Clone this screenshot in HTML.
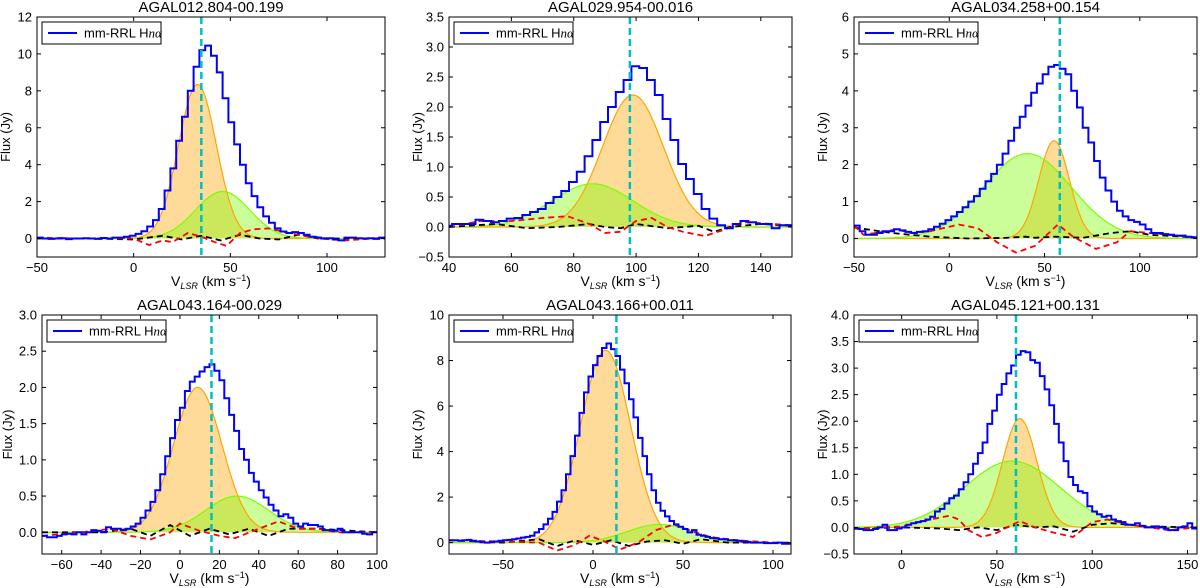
<!DOCTYPE html>
<html><head><meta charset="utf-8">
<style>
html,body{margin:0;padding:0;background:#fff;}
svg{display:block;font-family:"Liberation Sans",sans-serif;}
</style></head>
<body>
<svg id="fig" width="1200" height="588" viewBox="0 0 1200 588" xmlns="http://www.w3.org/2000/svg"></svg>
<script>
// ---- panel data ----
const titles = ["AGAL012.804-00.199","AGAL029.954-00.016","AGAL034.258+00.154","AGAL043.164-00.029","AGAL043.166+00.011","AGAL045.121+00.131"];
const xRanges = [[-50,130],[40,150],[-50,130],[-70,100],[-80,110],[-25,155]];
const yRanges = [[-1,12],[-0.5,3.5],[-0.5,6],[-0.3,3.0],[-0.5,10],[-0.5,4.0]];
const xTicks = [[-50,0,50,100],[40,60,80,100,120,140],[-50,0,50,100],[-60,-40,-20,0,20,40,60,80,100],[-50,0,50,100],[0,50,100,150]];
const yTicks = [[0,2,4,6,8,10,12],[-0.5,0,0.5,1,1.5,2,2.5,3,3.5],[0,1,2,3,4,5,6],[0,0.5,1,1.5,2,2.5,3],[0,2,4,6,8,10],[-0.5,0,0.5,1,1.5,2,2.5,3,3.5,4]];
const yDecimals = [0,1,0,1,0,1];
const vlsr = [35,98,58,16,13,60];
const binStart = [-50,38.5,-50,-70,-82.5,-25];
const binWidth = [3,2.5,3,2.5,2.5,2.5];
const blue1 = [0.05,0,-0.02,0,0.02,-0.03,0,0,0.02,0,-0.02,0.03,0,0.05,0.05,0.1,0.15,0.25,0.4,0.65,1.0,1.6,2.6,3.8,5.3,6.6,8.0,9.3,10.2,10.45,9.9,9.0,7.6,6.3,5.1,4.0,3.0,2.3,1.7,1.2,0.85,0.55,0.38,0.3,0.35,0.3,0.2,0.1,0.05,0.0,0.02,-0.05,-0.1,0.05,0.05,0.02,0,0.02,-0.02,0.05];
const blue2 = [0.02,0.05,0.05,0.05,0.12,0.1,0.08,0.1,0.14,0.15,0.2,0.25,0.3,0.4,0.5,0.6,0.75,0.92,1.18,1.45,1.75,2.0,2.25,2.45,2.68,2.65,2.45,2.2,1.8,1.45,1.05,0.8,0.55,0.3,0.14,0.03,-0.02,0.05,0.1,0.08,0.05,0.05,-0.02,0.03,0.03];
const blue3 = [0.35,0.2,0.1,0.1,0.15,0.2,0.2,0.25,0.22,0.18,0.15,0.18,0.2,0.25,0.32,0.4,0.5,0.6,0.72,0.85,1.0,1.15,1.35,1.55,1.75,2.0,2.3,2.65,3.0,3.3,3.6,3.95,4.2,4.45,4.65,4.7,4.6,4.45,4.0,3.55,3.0,2.6,2.1,1.65,1.3,1.0,0.75,0.6,0.5,0.45,0.38,0.25,0.15,0.15,0.12,0.1,0.08,0.08,0.05,0.03];
const blue4 = [-0.05,-0.07,-0.07,-0.05,-0.03,-0.02,-0.03,0,-0.03,0,0.03,0.02,0,0.07,0.05,0.05,0.03,0.05,0.08,0.12,0.2,0.3,0.42,0.58,0.8,1.05,1.3,1.55,1.72,1.95,2.08,2.15,2.22,2.28,2.32,2.23,2.1,1.85,1.62,1.4,1.15,1.0,0.82,0.7,0.58,0.48,0.38,0.3,0.22,0.25,0.2,0.12,0.08,0.12,0.1,0.1,0.08,0.03,0.03,0.02,0.05,0,0,0,0,-0.02,-0.03,0];
const blue5 = [0.1,0.1,0.1,0.08,0.1,0.12,0.08,0.05,0.02,0.0,0.02,0.05,0.08,0.1,0.12,0.15,0.18,0.22,0.25,0.3,0.45,0.6,0.8,1.05,1.35,1.8,2.3,3.0,3.8,4.7,5.7,6.6,7.3,7.8,8.2,8.55,8.75,8.5,8.2,7.6,7.0,6.3,5.5,4.6,3.8,3.0,2.3,1.75,1.4,1.15,0.95,0.8,0.7,0.6,0.45,0.55,0.35,0.3,0.25,0.2,0.18,0.15,0.15,0.1,0.1,0.08,0.05,0.03,0,0,0,-0.02,-0.02,-0.02,0,-0.05,-0.05];
const blue6 = [-0.02,-0.03,-0.05,-0.05,-0.03,0,0.05,-0.05,-0.05,-0.02,0,0.05,0.08,0.1,0.12,0.15,0.2,0.3,0.35,0.45,0.55,0.6,0.72,0.85,1.0,1.2,1.4,1.6,1.95,2.2,2.5,2.7,2.9,3.05,3.25,3.32,3.3,3.15,3.1,2.85,2.6,2.3,1.95,1.6,1.25,0.95,0.8,0.68,0.65,0.4,0.3,0.25,0.2,0.22,0.15,0.12,0.1,0.05,0.05,0.08,0.03,0,0,0.02,0,-0.02,-0.05,-0.05,0,0.02,0.08,-0.02];
const blueSeries = [blue1,blue2,blue3,blue4,blue5,blue6];
// Gaussian fit parameters [amplitude, centre, sigma]
const orangeFit = [[8.35,33,9.8],[2.2,99,9.8],[2.65,55,8],[2.0,9,12.3],[8.45,7,14],[2.05,62,9]];
const greenFit = [[2.55,46,14],[0.72,86,13],[2.3,41,23],[0.5,29,16],[0.8,37,18],[1.25,58,25]];
const redX = [[-50,-30,-10,0,8,15,20,28,35,42,48,55,62,70,78,85,95,110,130],[40,50,60,70,78,85,90,95,100,105,110,115,122,128,135,150],[-50,-45,-35,-28,-20,-10,5,15,25,35,45,57,65,77,88,95,105,115,130],[-70,-50,-35,-25,-15,-5,0,10,20,28,40,50,60,70,80,100],[-80,-50,-30,-20,-10,-2,5,15,25,35,45,55,65,80,100,110],[-25,-10,0,15,25,30,35,42,50,58,62,70,80,90,100,108,120,140,155]];
const redY = [[0.05,0,0,0,-0.35,-0.1,-0.2,0.3,0.1,-0.2,-0.4,0.3,0.5,0.55,0.35,0.2,0,-0.1,0.05],[0,0.1,0.1,0.15,0.18,0.05,-0.1,-0.08,0.1,0.15,0,-0.08,-0.15,-0.05,0.08,0.03],[0.35,0.1,0.18,0.25,0.15,0.2,0.38,0.28,-0.1,-0.38,-0.2,0.38,0.05,-0.28,-0.1,0.2,0.15,0.1,0.03],[-0.05,0,0.05,-0.05,-0.1,0,0.12,0.02,-0.05,-0.08,0.05,0.15,0.05,0.05,0,0],[0.1,0.05,0,-0.35,-0.1,0.3,0.1,-0.3,0.0,0.55,0.8,0.5,0.25,0.1,0,-0.05],[-0.03,0,0.02,0.15,0.22,0.15,-0.05,-0.18,-0.1,0.05,0.12,0,-0.1,-0.18,0.1,0.15,0.05,-0.05,0]];
const blackX = [[-50,-20,0,15,25,35,45,55,65,75,85,100,130],[40,55,65,75,85,90,95,100,110,120,125,130,140,150],[-50,-30,-10,10,30,40,45,55,70,85,95,105,130],[-70,-40,-25,-15,-5,5,15,25,35,45,55,70,100],[-80,-50,-30,-20,-10,0,10,20,30,40,50,60,75,90,110],[-25,0,20,30,40,50,60,70,80,90,100,110,130,155]];
const blackY = [[0,0,-0.05,0.15,-0.05,0.15,-0.1,0.2,0,-0.05,0.2,0,0],[0,0.05,-0.02,0,0.05,0,-0.02,0.05,-0.02,0.02,-0.08,0,0.05,0.02],[0.3,0.15,0.05,0,0.02,0.05,0.02,0.05,0.02,0.15,0.2,0.1,0.03],[0,0,0.05,-0.05,0.1,-0.05,0.05,-0.03,0.05,-0.05,0.05,0.05,0],[0.1,0,0.15,-0.15,0.1,-0.1,0.1,-0.15,0.05,0.1,-0.05,0.15,0,0,0],[-0.02,0,-0.02,-0.05,0,-0.05,0.05,0,0.02,-0.08,0.05,0.08,0.02,0]];
// ---- layout ----
const boxes = [[37,17,385,257],[449,17,792,257],[854,17,1197,257],[42,315,377,554],[449,315,791,554],[854,315,1197,554]];

const NS="http://www.w3.org/2000/svg";
const fig=document.getElementById('fig');
function mk(tag,attrs,parent){const e=document.createElementNS(NS,tag);for(const k in attrs)e.setAttribute(k,attrs[k]);parent.appendChild(e);return e;}
function fmt(v,d){const s=Math.abs(v).toFixed(d);return (v<0?'\u2212':'')+s;}

for(let p=0;p<6;p++){
  const [L,T,R,B]=boxes[p];
  const [x0,x1]=xRanges[p],[y0,y1]=yRanges[p];
  const sx=v=>L+(v-x0)/(x1-x0)*(R-L);
  const sy=v=>B-(v-y0)/(y1-y0)*(B-T);
  const g=mk('g',{},fig);
  
  
  const cid='clip'+p;
  const cp=mk('clipPath',{id:cid},g);
  mk('rect',{x:L,y:T,width:R-L,height:B-T},cp);
  const plot=mk('g',{'clip-path':'url(#'+cid+')'},g);
  function gaussPts(par){const [a,c,s]=par;const pts=[];for(let x=x0;x<=x1+0.001;x+=0.5){pts.push([sx(x),sy(a*Math.exp(-(x-c)*(x-c)/(2*s*s)))]);}return pts;}
  const fits=[[orangeFit[p],'orange','orange'],[greenFit[p],'lawngreen','lawngreen']];
  fits.forEach((f,i)=>{
    const pts=gaussPts(f[0]);
    const d='M'+sx(x0)+','+sy(0)+' L'+pts.map(q=>q[0].toFixed(1)+','+q[1].toFixed(1)).join(' L')+' L'+sx(x1)+','+sy(0)+'Z';
    const fa=mk('path',{d:d,fill:f[1],'fill-opacity':0.4,stroke:'none'},plot);
    
    
  });
  fits.forEach((f,i)=>{
    const pts=gaussPts(f[0]);
    const ln=mk('polyline',{points:pts.map(q=>q[0].toFixed(1)+','+q[1].toFixed(1)).join(' '),fill:'none',stroke:f[2],'stroke-width':1.2},plot);
    
    
  });
  const mkLine=(xs,ys,col)=>mk('polyline',{points:xs.map((x,i)=>sx(x).toFixed(1)+','+sy(ys[i]).toFixed(1)).join(' '),fill:'none',stroke:col,'stroke-width':1.8,'stroke-dasharray':'6,4'},plot);
  const bl=mkLine(blackX[p],blackY[p],'black');
  
  
  const rl=mkLine(redX[p],redY[p],'red');
  
  
  const vals=blueSeries[p];let sp=[];
  vals.forEach((v,i)=>{const xa=binStart[p]+i*binWidth[p],xb=xa+binWidth[p];sp.push(sx(xa).toFixed(1)+','+sy(v).toFixed(1));sp.push(sx(xb).toFixed(1)+','+sy(v).toFixed(1));});
  const st=mk('polyline',{points:sp.join(' '),fill:'none',stroke:'#0000ff','stroke-width':2},plot);
  
  
  const vl=mk('line',{x1:sx(vlsr[p]),x2:sx(vlsr[p]),y1:T,y2:B,stroke:'#00bfbf','stroke-width':2.5,'stroke-dasharray':'7,4'},plot);
  
  
  const fr=mk('rect',{x:L,y:T,width:R-L,height:B-T,fill:'none',stroke:'#000','stroke-width':1},g);
  
  
  xTicks[p].forEach(t=>{
    const x=sx(t);
    mk('line',{x1:x,x2:x,y1:B,y2:B-4,stroke:'#000'},g);
    mk('line',{x1:x,x2:x,y1:T,y2:T+4,stroke:'#000'},g);
    const tl=mk('text',{x:x,y:B+15,'text-anchor':'middle','font-size':13},g);
    tl.textContent=fmt(t,0);
    
    
  });
  yTicks[p].forEach(t=>{
    const y=sy(t);
    mk('line',{x1:L,x2:L+4,y1:y,y2:y,stroke:'#000'},g);
    mk('line',{x1:R,x2:R-4,y1:y,y2:y,stroke:'#000'},g);
    const tl=mk('text',{x:L-5,y:y+4.5,'text-anchor':'end','font-size':13},g);
    tl.textContent=fmt(t,yDecimals[p]);
    
    
  });
  const ti=mk('text',{x:(L+R)/2,y:T-5,'text-anchor':'middle','font-size':15},g);
  ti.textContent=titles[p];
  
  
  const yl=mk('text',{x:0,y:0,'text-anchor':'middle','font-size':13,transform:'translate('+(p==3?12:(L-27))+','+((T+B)/2)+') rotate(-90)'},g);
  yl.textContent='Flux (Jy)';
  
  
  const xl=mk('text',{x:(L+R)/2,y:B+29,'text-anchor':'middle','font-size':14},g);
  xl.innerHTML='V<tspan font-size="9" font-style="italic" dy="3">LSR</tspan><tspan dy="-3"> (km s</tspan><tspan font-size="9" dy="-5">\u22121</tspan><tspan dy="5">)</tspan>';
  
  
  const lg=mk('g',{},g);
  
  
  mk('rect',{x:L+5,y:T+5,width:119,height:22,fill:'#fff',stroke:'#000','stroke-width':1},lg);
  mk('line',{x1:L+11,x2:L+40,y1:T+16,y2:T+16,stroke:'#0000ff','stroke-width':2},lg);
  const lt=mk('text',{x:L+47,y:T+20.5,'font-size':13},lg);
  lt.innerHTML='mm-RRL H<tspan font-family="Liberation Serif" font-style="italic">n\u03b1</tspan>';
  
  
}
</script>
</body></html>
